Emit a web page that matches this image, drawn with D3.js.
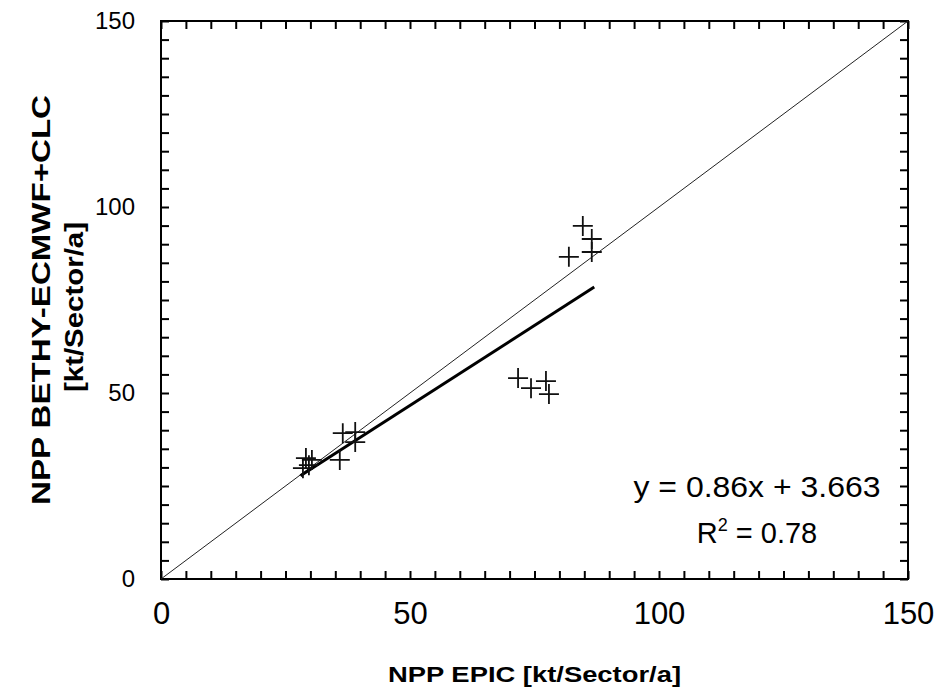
<!DOCTYPE html>
<html>
<head>
<meta charset="utf-8" />
<title>NPP EPIC vs BETHY</title>
<style>
  body { margin: 0; background: #fff; }
  text { font-family: Arial, "Liberation Sans", sans-serif; fill: #000; }
</style>
</head>
<body>
<script src="https://cdnjs.cloudflare.com/ajax/libs/d3/7.8.5/d3.min.js"></script>
<script>
// NPP EPIC (x) vs NPP BETHY-ECMWF+CLC (y), kt/Sector/a
var epic  = [29.1, 30.3, 28.5, 29.7, 36.5, 39.0, 39.0, 35.9, 71.7, 74.3, 77.3, 77.9, 84.7, 86.5, 86.5, 81.9];
var bethy = [32.5, 32.0, 29.8, 30.6, 39.2, 39.5, 36.8, 32.0, 54.0, 51.3, 53.2, 49.7, 94.9, 91.4, 87.9, 86.6];
var axisTicks = [0, 50, 100, 150];
var slope = 0.86, intercept = 3.663;
var fitRange = [28, 87];

var width = 935, height = 695;
var margin = {left: 161, right: 27, top: 21, bottom: 116};

var svg = d3.select('body').append('svg')
    .attr('width', width)
    .attr('height', height);

var x = d3.scaleLinear().domain([0, 150]).range([margin.left, width - margin.right]);
var y = d3.scaleLinear().domain([0, 150]).range([height - margin.bottom, margin.top]);

var minor = d3.range(0, 151, 5);
function lab(d) { return axisTicks.indexOf(d) >= 0 ? d : ''; }

// axes, ticks point inward
var gx = svg.append('g')
    .attr('transform', 'translate(0,' + y(0) + ')')
    .call(d3.axisBottom(x).tickValues(minor).tickFormat(lab).tickSize(-8).tickPadding(23));
gx.selectAll('text').style('font-size', '31px');

var gy = svg.append('g')
    .attr('transform', 'translate(' + x(0) + ',0)')
    .call(d3.axisLeft(y).tickValues(minor).tickFormat(lab).tickSize(-8).tickPadding(26));
gy.selectAll('text').style('font-size', '24px');

svg.append('g')
    .attr('transform', 'translate(0,' + y(150) + ')')
    .call(d3.axisTop(x).tickValues(minor).tickFormat('').tickSize(-8));
svg.append('g')
    .attr('transform', 'translate(' + x(150) + ',0)')
    .call(d3.axisRight(y).tickValues(minor).tickFormat('').tickSize(-8));

svg.selectAll('.domain').remove();
svg.selectAll('.tick line').attr('stroke', '#000').attr('stroke-width', 2);

// frame
svg.append('rect')
    .attr('x', x(0)).attr('y', y(150))
    .attr('width', x(150) - x(0)).attr('height', y(0) - y(150))
    .attr('fill', 'none').attr('stroke', '#000').attr('stroke-width', 2);

// 1:1 line
svg.append('line')
    .attr('x1', x(0)).attr('y1', y(0))
    .attr('x2', x(150)).attr('y2', y(150))
    .attr('stroke', '#222').attr('stroke-width', 1);

// regression line
svg.append('line')
    .attr('x1', x(fitRange[0])).attr('y1', y(slope * fitRange[0] + intercept))
    .attr('x2', x(fitRange[1])).attr('y2', y(slope * fitRange[1] + intercept))
    .attr('stroke', '#000').attr('stroke-width', 3);

// points as crosses
var pts = epic.map(function(d, i) { return [d, bethy[i]]; });
svg.selectAll('.pt')
    .data(pts)
  .enter().append('path')
    .attr('class', 'pt')
    .attr('d', function(d) {
        var cx = x(d[0]), cy = y(d[1]), r = 10;
        return 'M' + (cx - r) + ',' + cy + 'H' + (cx + r) + 'M' + cx + ',' + (cy - r) + 'V' + (cy + r);
    })
    .attr('fill', 'none')
    .attr('stroke', '#111')
    .attr('stroke-width', 1.8);

// equation
svg.append('text')
    .attr('x', 757).attr('y', 497)
    .attr('text-anchor', 'middle')
    .style('font-size', '29px')
    .attr('textLength', 247).attr('lengthAdjust', 'spacingAndGlyphs')
    .text('y = 0.86x + 3.663');
var r2 = svg.append('text')
    .attr('x', 757).attr('y', 543)
    .attr('text-anchor', 'middle')
    .style('font-size', '29px');
r2.append('tspan').text('R');
r2.append('tspan').attr('dy', -12).style('font-size', '18px').text('2');
r2.append('tspan').attr('dy', 12).text(' = 0.78');

// axis titles
svg.append('text')
    .attr('x', (x(0) + x(150)) / 2).attr('y', 682)
    .attr('text-anchor', 'middle')
    .style('font-size', '22px').style('font-weight', 'bold')
    .attr('textLength', 293).attr('lengthAdjust', 'spacingAndGlyphs')
    .text('NPP EPIC [kt/Sector/a]');

svg.append('text')
    .attr('transform', 'translate(50,300) rotate(-90)')
    .attr('text-anchor', 'middle')
    .style('font-size', '26px').style('font-weight', 'bold')
    .attr('textLength', 410).attr('lengthAdjust', 'spacingAndGlyphs')
    .text('NPP BETHY-ECMWF+CLC');
svg.append('text')
    .attr('transform', 'translate(83,307) rotate(-90)')
    .attr('text-anchor', 'middle')
    .style('font-size', '25px').style('font-weight', 'bold')
    .attr('textLength', 170).attr('lengthAdjust', 'spacingAndGlyphs')
    .text('[kt/Sector/a]');
</script>
</body>
</html>
